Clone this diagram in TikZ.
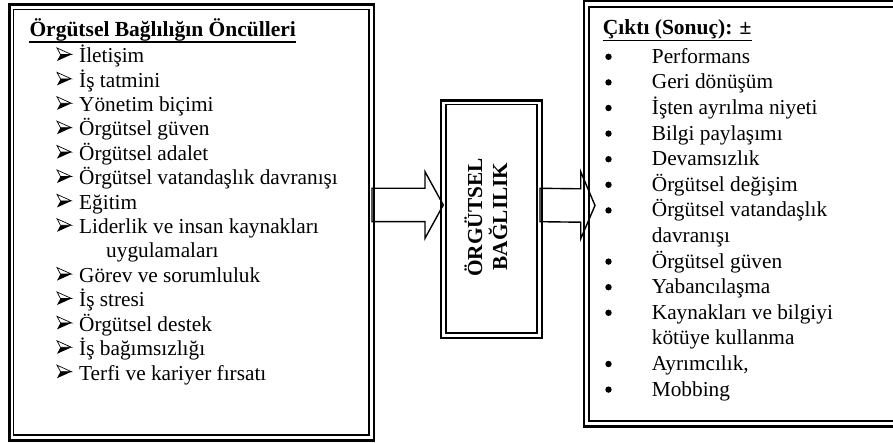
\documentclass[tikz,border=0pt]{standalone}
\usepackage{fontspec}
\setmainfont{Liberation Serif}
\usetikzlibrary{calc}
\tikzset{
  outerframe/.style={draw, line width=2.6pt, inner sep=0pt},
  innerframe/.style={draw, line width=1.6pt, inner sep=0pt},
  blockarrow/.style={draw, line width=1.4pt, fill=white, line join=miter},
  txt/.style={inner sep=0pt, anchor=base west, font=\fontsize{21.3}{24}\selectfont},
  head/.style={inner sep=0pt, anchor=base west, font=\fontsize{21.5}{24}\selectfont\bfseries},
  midtxt/.style={inner sep=0pt, anchor=base, rotate=90, font=\fontsize{21.3}{24}\selectfont\bfseries},
  dotbullet/.style={circle, fill, inner sep=0pt, minimum size=6.4pt},
  uline/.style={line width=1.4pt},
  arrowbulletpic/.pic={
    \draw[line width=0.7pt, line join=miter] (0,-14.8) -- (14.5,-8.3) -- (3.5,-8.3) -- cycle;
    \fill (3.5,-8.3) -- (14.5,-8.3) -- (0,-1.8) -- cycle;
  },
}
\begin{document}
\begin{tikzpicture}[x=1pt,y=-1pt]
\useasboundingbox (0,0) rectangle (893,443);
\clip (0,0) rectangle (893,443);

% arrow end points
\coordinate (A1tail) at (372,205);
\coordinate (A1tip) at (443.3,205);
\coordinate (A2tail) at (540,205);
\coordinate (A2tip) at (595,205.5);

% block arrows
\draw[blockarrow] ($(A1tail)+(0,-16.7)$) -- ($(A1tip)+(-18.3,-16.7)$) -- ($(A1tip)+(-18.3,-33.3)$)
  -- (A1tip) -- ($(A1tip)+(-18.3,33.3)$) -- ($(A1tip)+(-18.3,16.7)$) -- ($(A1tail)+(0,16.7)$) -- cycle;
\draw[blockarrow] ($(A2tail)+(0,-16.7)$) -- ($(A2tip)+(-14.3,-16.7)$) -- ($(A2tip)+(-14.3,-33.8)$)
  -- (A2tip) -- ($(A2tip)+(-14.3,33.3)$) -- ($(A2tip)+(-14.3,16.7)$) -- ($(A2tail)+(0,16.7)$) -- cycle;

% frames
\node[outerframe, minimum width=364.5pt, minimum height=436pt] (Lout) at (191.75,222.5) {};
\node[innerframe, minimum width=355.5pt, minimum height=425.5pt] (Lin) at (191.25,222.25) {};
\node[outerframe, minimum width=101pt, minimum height=237.5pt] (Mout) at (491.5,219.25) {};
\node[innerframe, minimum width=91pt, minimum height=228.5pt] (Min) at (491.5,218.75) {};
\node[outerframe, minimum width=321pt, minimum height=425.3pt] (Rout) at (744.5,213.85) {};
\node[innerframe, minimum width=311pt, minimum height=414pt] (Rin) at (744.5,214) {};

% middle text
\node[midtxt] (M1) at (482,217.5) {ÖRGÜTSEL};
\node[midtxt] (M2) at (507,216.5) {BAĞLILIK};

% left heading and list
\node[head] (LH) at (29.3,36.7) {Örgütsel Bağlılığın Öncülleri};
\draw[uline] ($(LH.base west)+(0,5.2)$) -- ($(LH.base east)+(0,5.2)$);
\foreach \t/\x/\b [count=\i from 0] in {
  İletişim/79/1, İş tatmini/79/1, Yönetim biçimi/79/1, Örgütsel güven/79/1,
  Örgütsel adalet/79/1, Örgütsel vatandaşlık davranışı/79/1, Eğitim/79/1,
  Liderlik ve insan kaynakları/79/1, uygulamaları/106/0, Görev ve sorumluluk/79/1,
  İş stresi/79/1, Örgütsel destek/79/1, İş bağımsızlığı/79/1, Terfi ve kariyer fırsatı/79/1}
{
  \pgfmathsetmacro\yy{62.8+24.4*\i}
  \node[txt] (L\i) at (\x,\yy) {\t};
  \ifnum\b=1 \pic (LB\i) at (57,\yy) {arrowbulletpic};\fi
}

% right heading and list
\node[head] (RH) at (602.7,35) {Çıktı (Sonuç): ±};
\draw[uline] ($(RH.base west)+(0,5.5)$) -- ($(RH.base east)+(0,5.5)$);
\foreach \t/\b [count=\i from 0] in {
  Performans/1, Geri dönüşüm/1, İşten ayrılma niyeti/1, Bilgi paylaşımı/1,
  Devamsızlık/1, Örgütsel değişim/1, Örgütsel vatandaşlık/1, davranışı/0,
  Örgütsel güven/1, Yabancılaşma/1, Kaynakları ve bilgiyi/1, kötüye kullanma/0,
  {Ayrımcılık,}/1, Mobbing/1}
{
  \pgfmathsetmacro\yy{63.3+25.6*\i}
  \node[txt] (R\i) at (651.7,\yy) {\t};
  \ifnum\b=1 \node[dotbullet] (RB\i) at (608.5,\yy-6.5) {};\fi
}
\end{tikzpicture}
\end{document}
